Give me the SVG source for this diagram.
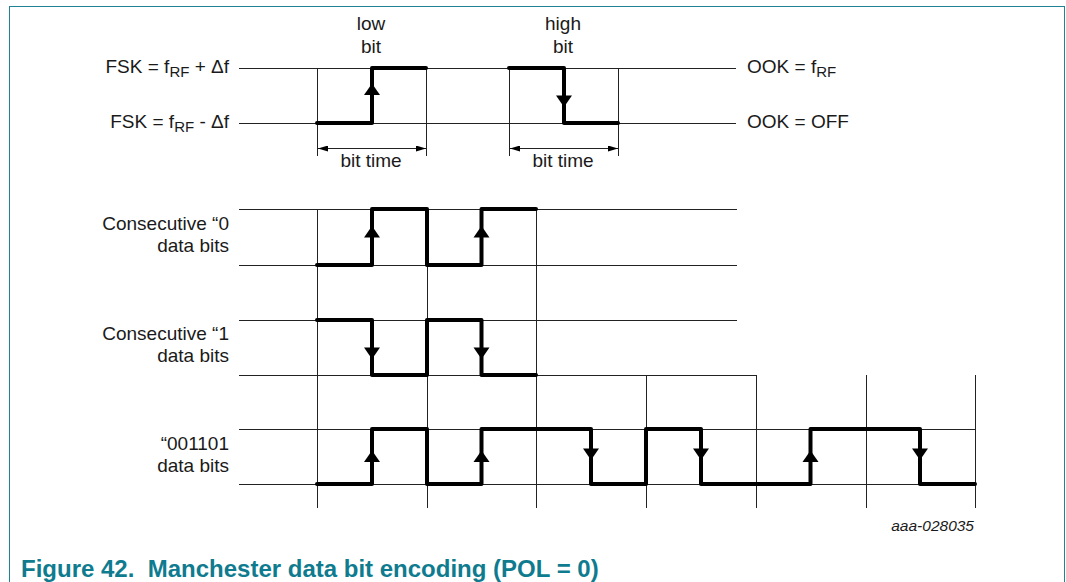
<svg xmlns="http://www.w3.org/2000/svg" width="1066" height="582" viewBox="0 0 1066 582">
<style>
.t{font-family:"Liberation Sans",Arial,sans-serif;font-size:19px;fill:#1a1a1a}
.m{text-anchor:middle}
.e{text-anchor:end}
.sub{font-size:15px}
.thin{stroke:#222;stroke-width:1;fill:none}
.wave{stroke:#000;stroke-width:4;fill:none;stroke-linejoin:round;stroke-linecap:round}
.ah{fill:#000}
.cap{font-family:"Liberation Sans",Arial,sans-serif;font-weight:bold;font-size:24px;fill:#0f7b8f;white-space:pre}
.id{font-family:"Liberation Sans",Arial,sans-serif;font-style:italic;font-size:15.5px;fill:#1a1a1a}
</style>
<defs>
<marker id="dim" viewBox="0 0 10 6" refX="10" refY="3" markerWidth="10" markerHeight="6" markerUnits="userSpaceOnUse" orient="auto-start-reverse">
<path d="M0,0 L10,3 L0,6 Z" fill="#000"/>
</marker>
</defs>
<rect x="9.5" y="6.5" width="1055" height="640" fill="#fff" stroke="#1f8296" stroke-width="1"/>

<g id="connectors">
<path class="thin" d="M239,68.5 H736 M239,123.5 H736 M317.5,68 V156 M426.5,68 V156 M509.5,68 V156 M618.5,68 V156"/>
<line class="thin" x1="318" y1="148.5" x2="426" y2="148.5" marker-start="url(#dim)" marker-end="url(#dim)"/>
<line class="thin" x1="510" y1="148.5" x2="618" y2="148.5" marker-start="url(#dim)" marker-end="url(#dim)"/>
<path class="thin" d="M239,209.5 H737 M239,265.5 H737 M239,320.5 H737 M239,375.5 H756 M239,429.5 H975 M239,484.5 H975"/>
<path class="thin" d="M317.5,209 V508 M427.5,209 V508 M536.5,209 V508 M646.5,375 V508 M756.5,375 V508 M866.5,375 V508 M975.5,375 V508"/>
</g>

<g id="fsk-labels">
<text class="t e" x="229" y="73">FSK = f<tspan class="sub" dy="4">RF</tspan><tspan dy="-4"> + Δf</tspan></text>
<text class="t e" x="229" y="128">FSK = f<tspan class="sub" dy="4">RF</tspan><tspan dy="-4"> - Δf</tspan></text>
</g>
<g id="ook-labels">
<text class="t" x="747" y="73">OOK = f<tspan class="sub" dy="4">RF</tspan></text>
<text class="t" x="747" y="128">OOK = OFF</text>
</g>

<g id="low-bit">
<text class="t m" x="371" y="30">low</text>
<text class="t m" x="371" y="52.5">bit</text>
<path class="wave" d="M317,123 H372 V68 H426"/>
<polygon class="ah" points="372,83.5 364,95 380,95"/>
<text class="t m" x="371" y="167">bit time</text>
</g>

<g id="high-bit">
<text class="t m" x="563" y="30">high</text>
<text class="t m" x="563" y="52.5">bit</text>
<path class="wave" d="M509,68 H564 V123 H618"/>
<polygon class="ah" points="564,107 556,95.5 572,95.5"/>
<text class="t m" x="563" y="167">bit time</text>
</g>

<g id="consecutive-0">
<text class="t e" x="229" y="230">Consecutive “0</text>
<text class="t e" x="229" y="252">data bits</text>
<path class="wave" d="M317,265 H372 V209 H427 V265 H481.5 V209 H536"/>
<polygon class="ah" points="372,226 364,237.5 380,237.5"/>
<polygon class="ah" points="481.5,226 473.5,237.5 489.5,237.5"/>
</g>

<g id="consecutive-1">
<text class="t e" x="229" y="340">Consecutive “1</text>
<text class="t e" x="229" y="362">data bits</text>
<path class="wave" d="M317,320 H372 V375 H427 V320 H481.5 V375 H536"/>
<polygon class="ah" points="372,359 364,347.5 380,347.5"/>
<polygon class="ah" points="481.5,359 473.5,347.5 489.5,347.5"/>
</g>

<g id="pattern-001101">
<text class="t e" x="229" y="450">“001101</text>
<text class="t e" x="229" y="472">data bits</text>
<path class="wave" d="M317,484 H372 V429 H427 V484 H481.5 V429 H591 V484 H646 V429 H701 V484 H810.5 V429 H920 V484 H975"/>
<polygon class="ah" points="372,450.5 364,462 380,462"/>
<polygon class="ah" points="481.5,450.5 473.5,462 489.5,462"/>
<polygon class="ah" points="810.5,450.5 802.5,462 818.5,462"/>
<polygon class="ah" points="591,460 583,448.5 599,448.5"/>
<polygon class="ah" points="701,460 693,448.5 709,448.5"/>
<polygon class="ah" points="920,460 912,448.5 928,448.5"/>
</g>

<g id="figure-id">
<text class="id" x="974" y="531" text-anchor="end">aaa-028035</text>
</g>
<g id="caption">
<text class="cap" x="21" y="577" xml:space="preserve">Figure 42.  Manchester data bit encoding (POL = 0)</text>
</g>
</svg>
